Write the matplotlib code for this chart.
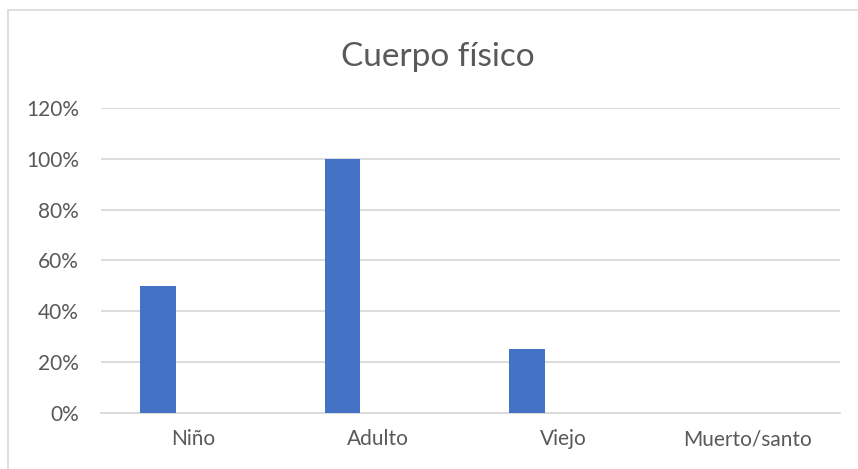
import matplotlib
matplotlib.use("Agg")
from matplotlib import pyplot as plt
from matplotlib.ticker import PercentFormatter
from matplotlib.patches import Rectangle

categorias = ["Niño", "Adulto", "Viejo", "Muerto/santo"]
valores = [0.50, 1.00, 0.25, 0.0]
ticks_y = [0.0, 0.2, 0.4, 0.6, 0.8, 1.0, 1.2]

azul = "#4472C4"
gris = "#D9D9D9"
texto = "#595959"

plt.rcParams["font.family"] = ["Lato", "DejaVu Sans"]

fig = plt.figure(figsize=(8.58, 4.69), dpi=100)
ax = fig.add_axes([101 / 858, 1 - 412.7 / 469, 739 / 858, 304.7 / 469])

# borde del gráfico (estilo Excel)
fig.patches.append(Rectangle((8 / 858, -0.1), 1.2, 1 - 10 / 469 + 0.1,
                             transform=fig.transFigure, fill=False,
                             edgecolor=gris, linewidth=1.2))

ancho = 0.193
x = list(range(len(categorias)))
ax.bar([i - ancho for i in x], valores, width=ancho, color=azul, zorder=3)

ax.set_xlim(-0.5, len(categorias) - 0.5)
ax.set_ylim(0, 1.2)
ax.set_yticks(ticks_y)
ax.yaxis.set_major_formatter(PercentFormatter(1.0, decimals=0))
ax.set_xticks(x)
ax.set_xticklabels(categorias)

ax.grid(axis="y", color=gris, linewidth=1.3, zorder=0)
for s in ["top", "right", "left"]:
    ax.spines[s].set_visible(False)
ax.spines["bottom"].set_color(gris)
ax.spines["bottom"].set_linewidth(1.3)
ax.tick_params(axis="both", length=0, colors=texto, labelsize=15)
ax.tick_params(axis="y", pad=16)
ax.tick_params(axis="x", pad=12)

fig.text(438 / 858, 1 - 57 / 469, "Cuerpo físico", ha="center", va="center",
         fontsize=24, color=texto)

fig.savefig("out.png", dpi=100)
